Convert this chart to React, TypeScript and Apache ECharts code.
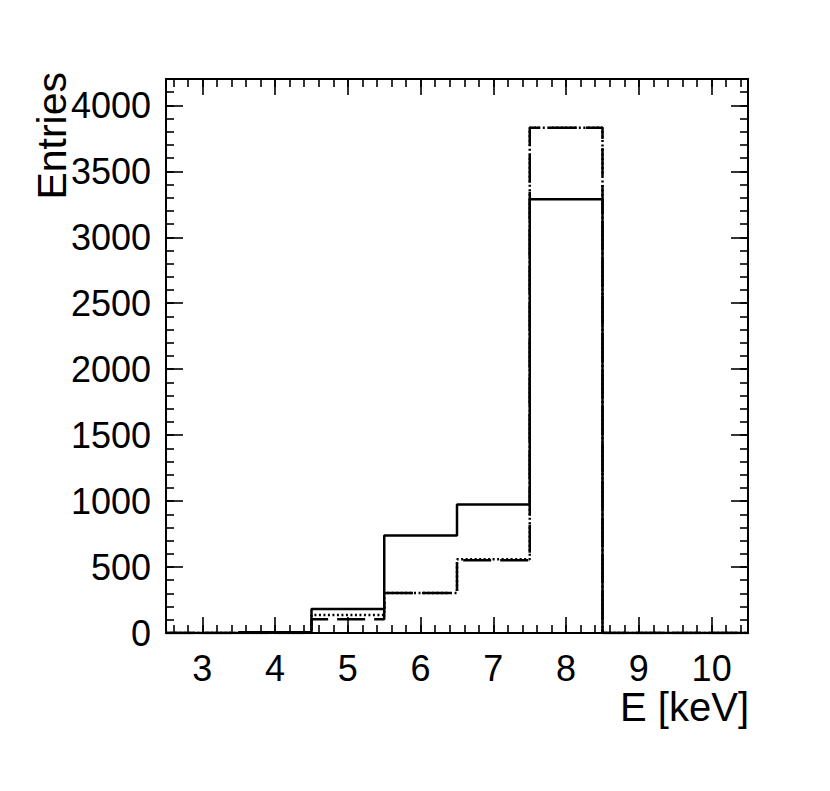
import React, { useEffect, useRef } from "react";
import * as echarts from "echarts";

// Histogram bins (centers, keV), bin width 1
const binCenters = [3, 4, 5, 6, 7, 8, 9, 10];
const solidCounts = [0, 6, 182, 740, 975, 3288, 0, 0];
const dashedCounts = [0, 0, 105, 303, 552, 3830, 0, 0];
const dottedCounts = [0, 0, 137, 303, 560, 3830, 0, 0];

const xMin = 2.5;
const xMax = 10.5;
const yMin = 0;
const yMax = 4200;
const xTitle = "E [keV]";
const yTitle = "Entries";

const FONT = "'Liberation Sans', Arial, Helvetica, sans-serif";

function stepPoints(counts: number[]): number[][] {
  const pts: number[][] = [];
  const w = 1;
  pts.push([binCenters[0] - w / 2, 0]);
  counts.forEach((c, i) => {
    pts.push([binCenters[i] - w / 2, c]);
    pts.push([binCenters[i] + w / 2, c]);
  });
  pts.push([binCenters[binCenters.length - 1] + w / 2, 0]);
  return pts;
}

export default function App() {
  const ref = useRef<HTMLDivElement>(null);
  useEffect(() => {
    if (!ref.current) return;
    const chart = echarts.init(ref.current, undefined, { renderer: "svg" });
    const lineCol = { color: "#000", width: 1.6 };
    const xBase = {
      type: "value",
      min: xMin,
      max: xMax,
      splitLine: { show: false },
      axisLine: { show: true, onZero: false, lineStyle: { color: "#000", width: 2 } },
    };
    const yBase = {
      type: "value",
      min: yMin,
      max: yMax,
      splitLine: { show: false },
      axisLine: { show: true, onZero: false, lineStyle: { color: "#000", width: 2 } },
    };
    const option: any = {
      animation: false,
      backgroundColor: "#fff",
      grid: { left: 166, right: 82, top: 79, bottom: 158, containLabel: false },
      xAxis: [
        {
          ...xBase,
          position: "bottom",
          splitNumber: 8,
          minInterval: 1,
          maxInterval: 1,
          axisTick: { show: true, inside: true, length: 16, lineStyle: lineCol },
          axisLabel: {
            show: true,
            fontSize: 36,
            fontFamily: FONT,
            color: "#000",
            margin: 17,
            showMinLabel: false,
            showMaxLabel: false,
            formatter: (v: number) => (Number.isInteger(v) ? String(v) : ""),
          },
        },
        {
          ...xBase,
          position: "bottom",
          splitNumber: 40,
          minInterval: 0.2,
          maxInterval: 0.2,
          axisTick: { show: true, inside: true, length: 8, lineStyle: lineCol },
          axisLabel: { show: false },
        },
        {
          ...xBase,
          position: "top",
          splitNumber: 8,
          minInterval: 1,
          maxInterval: 1,
          axisTick: { show: true, inside: true, length: 16, lineStyle: lineCol },
          axisLabel: { show: false },
        },
        {
          ...xBase,
          position: "top",
          splitNumber: 40,
          minInterval: 0.2,
          maxInterval: 0.2,
          axisTick: { show: true, inside: true, length: 8, lineStyle: lineCol },
          axisLabel: { show: false },
        },
      ],
      yAxis: [
        {
          ...yBase,
          position: "left",
          interval: 500,
          axisTick: { show: true, inside: true, length: 17, lineStyle: lineCol },
          axisLabel: {
            show: true,
            fontSize: 36,
            fontFamily: FONT,
            color: "#000",
            margin: 15,
            showMaxLabel: false,
            formatter: (v: number) => (v % 500 === 0 ? String(v) : ""),
          },
        },
        {
          ...yBase,
          position: "left",
          interval: 100,
          axisTick: { show: true, inside: true, length: 8, lineStyle: lineCol },
          axisLabel: { show: false },
        },
        {
          ...yBase,
          position: "right",
          interval: 500,
          axisTick: { show: true, inside: true, length: 17, lineStyle: lineCol },
          axisLabel: { show: false },
        },
        {
          ...yBase,
          position: "right",
          interval: 100,
          axisTick: { show: true, inside: true, length: 8, lineStyle: lineCol },
          axisLabel: { show: false },
        },
      ],
      series: [
        {
          name: "dashed",
          type: "line",
          xAxisIndex: 0,
          yAxisIndex: 0,
          data: stepPoints(dashedCounts),
          symbol: "none",
          lineStyle: { color: "#000", width: 2.5, type: [28, 9] },
          z: 3,
        },
        {
          name: "dotted",
          type: "line",
          xAxisIndex: 0,
          yAxisIndex: 0,
          data: stepPoints(dottedCounts),
          symbol: "none",
          lineStyle: { color: "#000", width: 2.5, type: [2, 2.5] },
          z: 4,
        },
        {
          name: "solid",
          type: "line",
          xAxisIndex: 0,
          yAxisIndex: 0,
          data: stepPoints(solidCounts),
          symbol: "none",
          lineStyle: { color: "#000", width: 2.5 },
          z: 5,
        },
      ],
      graphic: [
        {
          type: "text",
          x: 749,
          y: 707,
          style: {
            text: xTitle,
            fontSize: 40,
            fontFamily: FONT,
            fill: "#000",
            textAlign: "right",
            textVerticalAlign: "middle",
          },
        },
        {
          type: "text",
          x: 52,
          y: 72,
          rotation: Math.PI / 2,
          style: {
            text: yTitle,
            fontSize: 41,
            fontFamily: FONT,
            fill: "#000",
            textAlign: "right",
            textVerticalAlign: "middle",
          },
        },
      ],
    };
    chart.setOption(option);
    return () => chart.dispose();
  }, []);
  return (
    <div
      ref={ref}
      style={{ position: "absolute", left: 0, top: 0, width: 830, height: 791, background: "#fff" }}
    />
  );
}
